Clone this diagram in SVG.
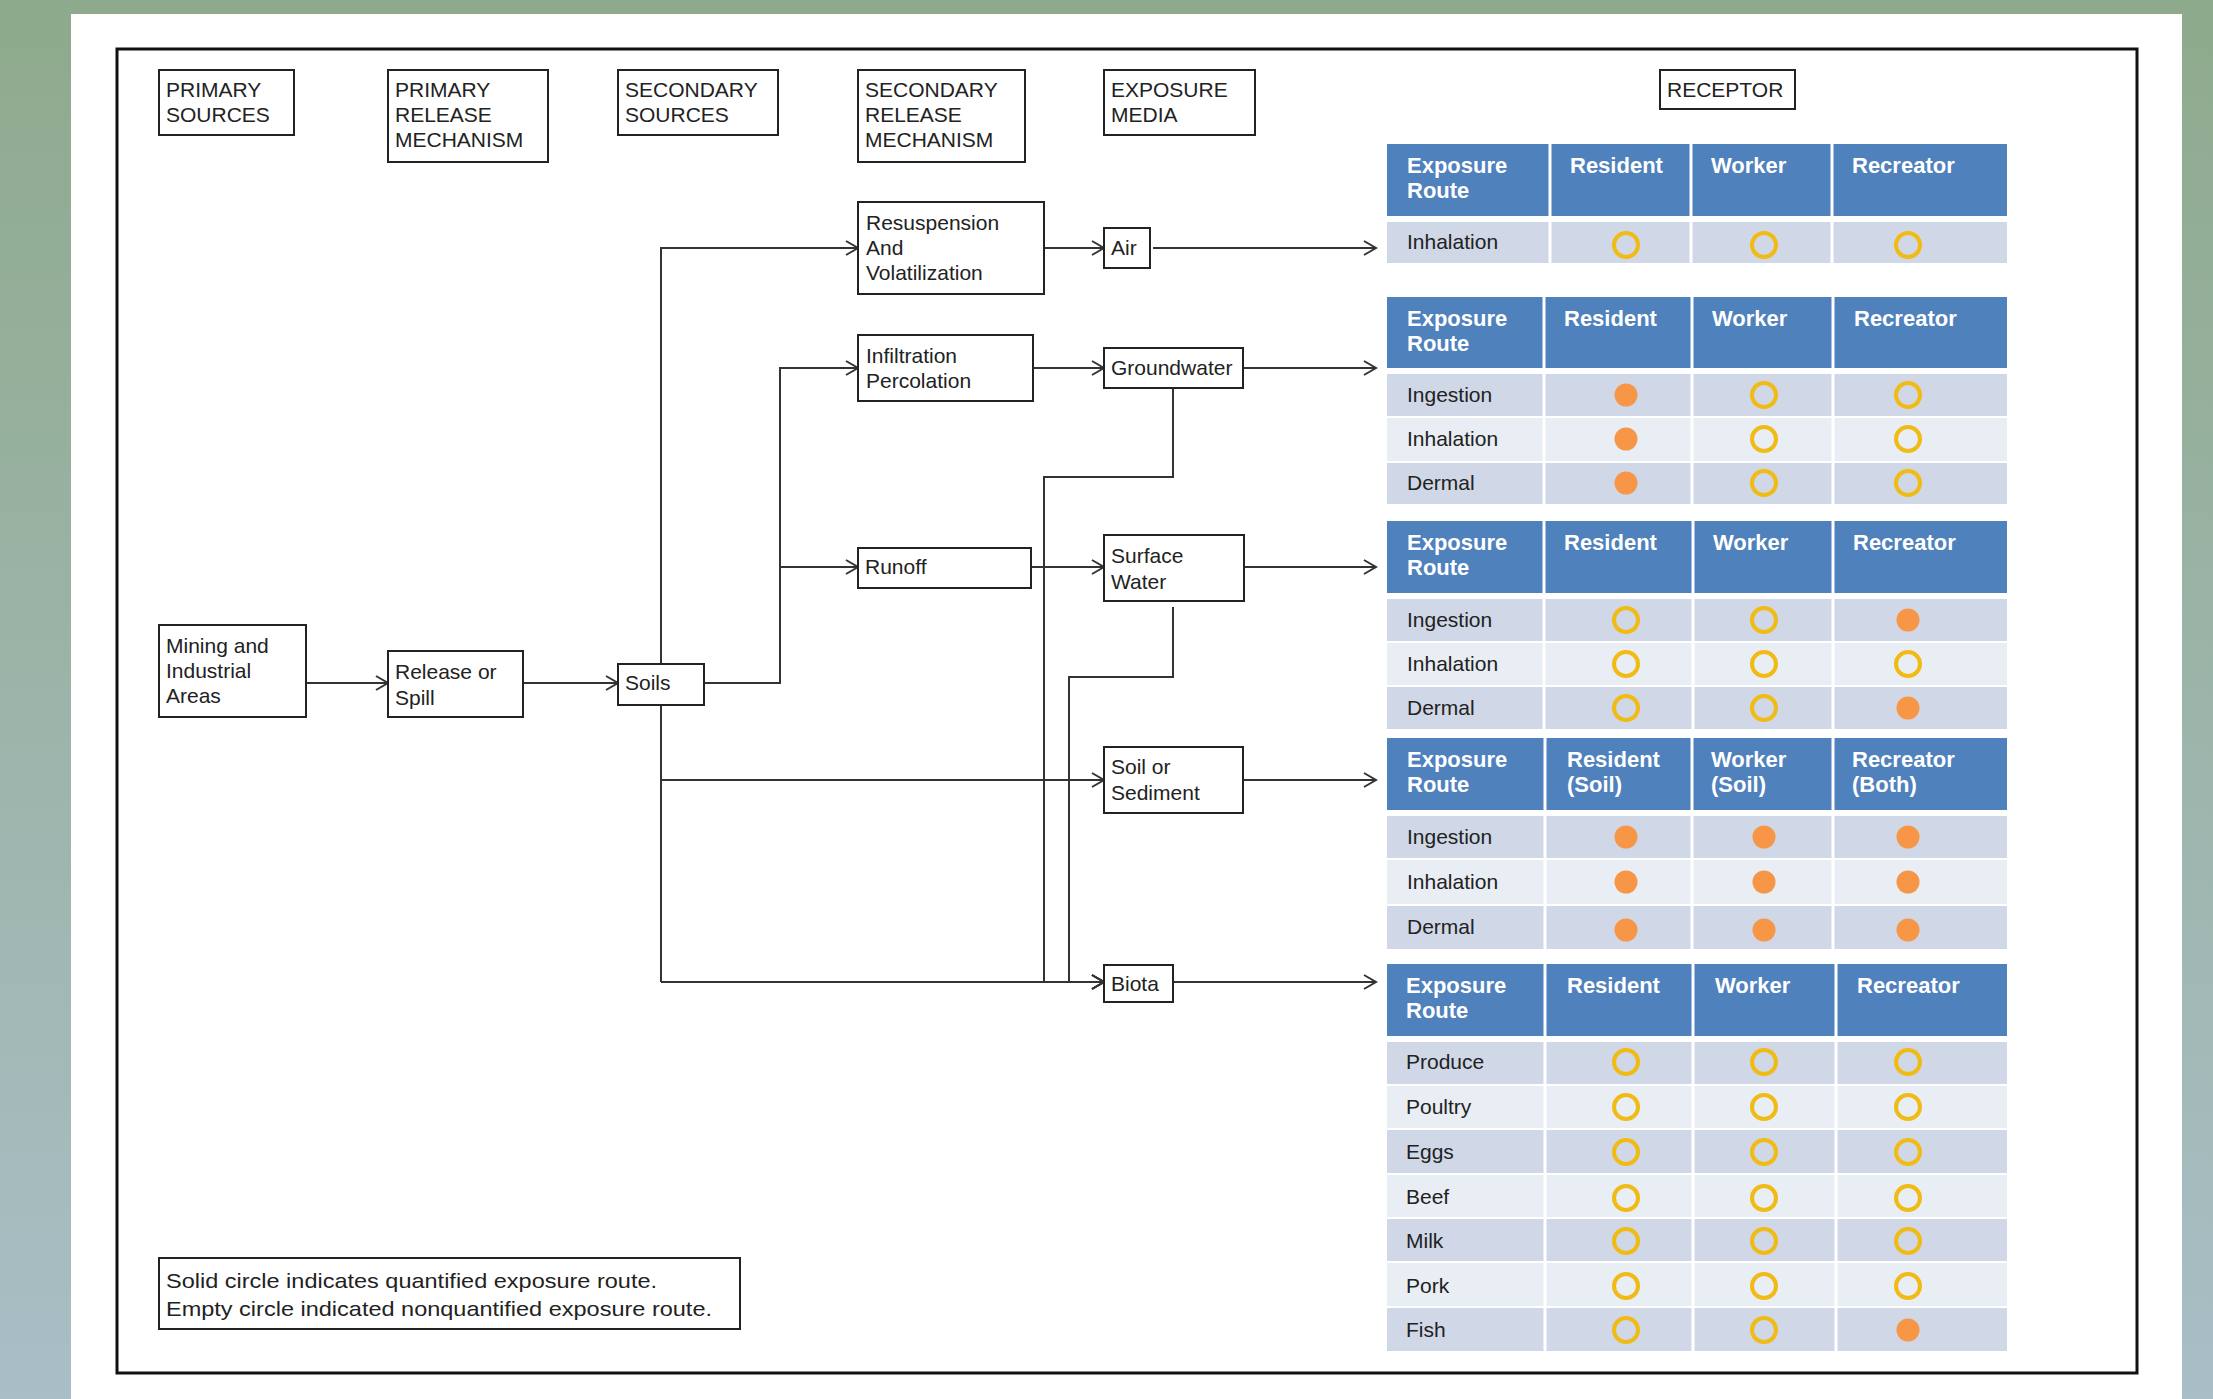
<svg xmlns="http://www.w3.org/2000/svg" width="2213" height="1399" viewBox="0 0 2213 1399">
<defs>
<linearGradient id="bg" x1="0" y1="0" x2="0" y2="1">
<stop offset="0" stop-color="#8eaa8c"/>
<stop offset="1" stop-color="#a9bec6"/>
</linearGradient>
<marker id="ah" markerUnits="userSpaceOnUse" markerWidth="16" markerHeight="16" refX="13" refY="8" orient="auto">
<path d="M1,1 L13,8 L1,15" fill="none" stroke="#333" stroke-width="2"/>
</marker>
<style>
.box{fill:#fff;stroke:#222;stroke-width:2}
.t{font-family:"Liberation Sans",Arial,sans-serif;font-size:21px;fill:#222}
.h{font-family:"Liberation Sans",Arial,sans-serif;font-size:22px;font-weight:bold;fill:#fff}
.c{fill:none;stroke:#333;stroke-width:2}
.a{fill:none;stroke:#333;stroke-width:2;marker-end:url(#ah)}
.hd{fill:#4f81bd}
.r1{fill:#d0d8e8}
.r2{fill:#e9edf4}
.sep{stroke:#fff;stroke-width:3}
.ring{fill:none;stroke:#f0bb14;stroke-width:4}
.dot{fill:#f79646}
</style>
</defs>
<rect x="0" y="0" width="2213" height="1399" fill="url(#bg)"/>
<rect x="71" y="14" width="2111" height="1385" fill="#fff"/>
<rect x="117" y="49" width="2020" height="1324" fill="none" stroke="#111" stroke-width="3"/>

<!-- column headers -->
<g id="hdr-primary-sources"><rect class="box" x="159" y="70" width="135" height="65"/><text class="t" x="166" y="97">PRIMARY</text><text class="t" x="166" y="122">SOURCES</text></g>
<g id="hdr-primary-release"><rect class="box" x="388" y="70" width="160" height="92"/><text class="t" x="395" y="97">PRIMARY</text><text class="t" x="395" y="122">RELEASE</text><text class="t" x="395" y="147">MECHANISM</text></g>
<g id="hdr-secondary-sources"><rect class="box" x="618" y="70" width="160" height="65"/><text class="t" x="625" y="97">SECONDARY</text><text class="t" x="625" y="122">SOURCES</text></g>
<g id="hdr-secondary-release"><rect class="box" x="858" y="70" width="167" height="92"/><text class="t" x="865" y="97">SECONDARY</text><text class="t" x="865" y="122">RELEASE</text><text class="t" x="865" y="147">MECHANISM</text></g>
<g id="hdr-exposure-media"><rect class="box" x="1104" y="70" width="151" height="65"/><text class="t" x="1111" y="97">EXPOSURE</text><text class="t" x="1111" y="122">MEDIA</text></g>
<g id="hdr-receptor"><rect class="box" x="1660" y="70" width="135" height="39"/><text class="t" x="1667" y="97">RECEPTOR</text></g>

<!-- connectors -->
<g id="connectors">
<path class="a" d="M307,683 H388"/>
<path class="a" d="M523,683 H618"/>
<path class="a" d="M704,683 H780 V368 H858"/>
<path class="a" d="M780,567 H858"/>
<path class="a" d="M661,982 V248 H858"/>
<path class="a" d="M661,780 H1104"/>
<path class="a" d="M661,982 H1104"/>
<path class="a" d="M1044,248 H1104"/>
<path class="a" d="M1153,248 H1376"/>
<path class="a" d="M1033,368 H1104"/>
<path class="a" d="M1243,368 H1376"/>
<path class="a" d="M1173,388 V477 H1044 V982 H1104"/>
<path class="a" d="M1031,567 H1104"/>
<path class="a" d="M1244,567 H1376"/>
<path class="a" d="M1173,607 V677 H1069 V982 H1104"/>
<path class="a" d="M1244,780 H1376"/>
<path class="a" d="M1173,982 H1376"/>
</g>

<!-- nodes -->
<g id="n-mining"><rect class="box" x="159" y="625" width="147" height="92"/><text class="t" x="166" y="653">Mining and</text><text class="t" x="166" y="678">Industrial</text><text class="t" x="166" y="703">Areas</text></g>
<g id="n-release"><rect class="box" x="388" y="651" width="135" height="66"/><text class="t" x="395" y="679">Release or</text><text class="t" x="395" y="705">Spill</text></g>
<g id="n-soils"><rect class="box" x="618" y="664" width="86" height="41"/><text class="t" x="625" y="690">Soils</text></g>
<g id="n-resuspension"><rect class="box" x="858" y="202" width="186" height="92"/><text class="t" x="866" y="230">Resuspension</text><text class="t" x="866" y="255">And</text><text class="t" x="866" y="280">Volatilization</text></g>
<g id="n-air"><rect class="box" x="1104" y="228" width="46" height="40"/><text class="t" x="1111" y="255">Air</text></g>
<g id="n-infiltration"><rect class="box" x="858" y="335" width="175" height="66"/><text class="t" x="866" y="363">Infiltration</text><text class="t" x="866" y="388">Percolation</text></g>
<g id="n-groundwater"><rect class="box" x="1104" y="348" width="139" height="40"/><text class="t" x="1111" y="375">Groundwater</text></g>
<g id="n-runoff"><rect class="box" x="858" y="548" width="173" height="40"/><text class="t" x="865" y="574">Runoff</text></g>
<g id="n-surface-water"><rect class="box" x="1104" y="535" width="140" height="66"/><text class="t" x="1111" y="563">Surface</text><text class="t" x="1111" y="589">Water</text></g>
<g id="n-soil-sediment"><rect class="box" x="1104" y="747" width="139" height="66"/><text class="t" x="1111" y="774">Soil or</text><text class="t" x="1111" y="800">Sediment</text></g>
<g id="n-biota"><rect class="box" x="1104" y="965" width="69" height="37"/><text class="t" x="1111" y="991">Biota</text></g>

<!-- legend -->
<g id="legend"><rect class="box" x="159" y="1258" width="581" height="71"/><text class="t" x="166" y="1288" textLength="491" lengthAdjust="spacingAndGlyphs">Solid circle indicates quantified exposure route.</text><text class="t" x="166" y="1316" textLength="546" lengthAdjust="spacingAndGlyphs">Empty circle indicated nonquantified exposure route.</text></g>

<!-- Table 1: Air -->
<g id="table-air">
<rect class="hd" x="1387" y="144" width="620" height="72"/>
<rect class="r1" x="1387" y="222" width="620" height="41"/>
<line class="sep" x1="1550" y1="144" x2="1550" y2="263"/><line class="sep" x1="1691" y1="144" x2="1691" y2="263"/><line class="sep" x1="1832" y1="144" x2="1832" y2="263"/>
<text class="h" x="1407" y="173">Exposure</text><text class="h" x="1407" y="198">Route</text>
<text class="h" x="1570" y="173">Resident</text><text class="h" x="1711" y="173">Worker</text><text class="h" x="1852" y="173">Recreator</text>
<text class="t" x="1407" y="249">Inhalation</text>
<circle class="ring" cx="1626" cy="245" r="12"/><circle class="ring" cx="1764" cy="245" r="12"/><circle class="ring" cx="1908" cy="245" r="12"/>
</g>

<!-- Table 2: Groundwater -->
<g id="table-groundwater">
<rect class="hd" x="1387" y="297" width="620" height="71"/>
<rect class="r1" x="1387" y="374" width="620" height="42"/>
<rect class="r2" x="1387" y="418" width="620" height="43"/>
<rect class="r1" x="1387" y="463" width="620" height="41"/>
<line class="sep" x1="1544" y1="297" x2="1544" y2="504"/><line class="sep" x1="1692" y1="297" x2="1692" y2="504"/><line class="sep" x1="1833" y1="297" x2="1833" y2="504"/>
<text class="h" x="1407" y="326">Exposure</text><text class="h" x="1407" y="351">Route</text>
<text class="h" x="1564" y="326">Resident</text><text class="h" x="1712" y="326">Worker</text><text class="h" x="1854" y="326">Recreator</text>
<text class="t" x="1407" y="402">Ingestion</text><text class="t" x="1407" y="446">Inhalation</text><text class="t" x="1407" y="490">Dermal</text>
<circle class="dot" cx="1626" cy="395" r="11.5"/><circle class="ring" cx="1764" cy="395" r="12"/><circle class="ring" cx="1908" cy="395" r="12"/>
<circle class="dot" cx="1626" cy="439" r="11.5"/><circle class="ring" cx="1764" cy="439" r="12"/><circle class="ring" cx="1908" cy="439" r="12"/>
<circle class="dot" cx="1626" cy="483" r="11.5"/><circle class="ring" cx="1764" cy="483" r="12"/><circle class="ring" cx="1908" cy="483" r="12"/>
</g>

<!-- Table 3: Surface Water -->
<g id="table-surface-water">
<rect class="hd" x="1387" y="521" width="620" height="72"/>
<rect class="r1" x="1387" y="599" width="620" height="42"/>
<rect class="r2" x="1387" y="643" width="620" height="42"/>
<rect class="r1" x="1387" y="687" width="620" height="42"/>
<line class="sep" x1="1544" y1="521" x2="1544" y2="729"/><line class="sep" x1="1693" y1="521" x2="1693" y2="729"/><line class="sep" x1="1833" y1="521" x2="1833" y2="729"/>
<text class="h" x="1407" y="550">Exposure</text><text class="h" x="1407" y="575">Route</text>
<text class="h" x="1564" y="550">Resident</text><text class="h" x="1713" y="550">Worker</text><text class="h" x="1853" y="550">Recreator</text>
<text class="t" x="1407" y="627">Ingestion</text><text class="t" x="1407" y="671">Inhalation</text><text class="t" x="1407" y="715">Dermal</text>
<circle class="ring" cx="1626" cy="620" r="12"/><circle class="ring" cx="1764" cy="620" r="12"/><circle class="dot" cx="1908" cy="620" r="11.5"/>
<circle class="ring" cx="1626" cy="664" r="12"/><circle class="ring" cx="1764" cy="664" r="12"/><circle class="ring" cx="1908" cy="664" r="12"/>
<circle class="ring" cx="1626" cy="708" r="12"/><circle class="ring" cx="1764" cy="708" r="12"/><circle class="dot" cx="1908" cy="708" r="11.5"/>
</g>

<!-- Table 4: Soil or Sediment -->
<g id="table-soil">
<rect class="hd" x="1387" y="738" width="620" height="72"/>
<rect class="r1" x="1387" y="816" width="620" height="42"/>
<rect class="r2" x="1387" y="860" width="620" height="44"/>
<rect class="r1" x="1387" y="906" width="620" height="43"/>
<line class="sep" x1="1545" y1="738" x2="1545" y2="949"/><line class="sep" x1="1692" y1="738" x2="1692" y2="949"/><line class="sep" x1="1833" y1="738" x2="1833" y2="949"/>
<text class="h" x="1407" y="767">Exposure</text><text class="h" x="1407" y="792">Route</text>
<text class="h" x="1567" y="767">Resident</text><text class="h" x="1567" y="792">(Soil)</text>
<text class="h" x="1711" y="767">Worker</text><text class="h" x="1711" y="792">(Soil)</text>
<text class="h" x="1852" y="767">Recreator</text><text class="h" x="1852" y="792">(Both)</text>
<text class="t" x="1407" y="844">Ingestion</text><text class="t" x="1407" y="889">Inhalation</text><text class="t" x="1407" y="934">Dermal</text>
<circle class="dot" cx="1626" cy="837" r="11.5"/><circle class="dot" cx="1764" cy="837" r="11.5"/><circle class="dot" cx="1908" cy="837" r="11.5"/>
<circle class="dot" cx="1626" cy="882" r="11.5"/><circle class="dot" cx="1764" cy="882" r="11.5"/><circle class="dot" cx="1908" cy="882" r="11.5"/>
<circle class="dot" cx="1626" cy="930" r="11.5"/><circle class="dot" cx="1764" cy="930" r="11.5"/><circle class="dot" cx="1908" cy="930" r="11.5"/>
</g>

<!-- Table 5: Biota -->
<g id="table-biota">
<rect class="hd" x="1387" y="964" width="620" height="72"/>
<rect class="r1" x="1387" y="1042" width="620" height="42"/>
<rect class="r2" x="1387" y="1086" width="620" height="42"/>
<rect class="r1" x="1387" y="1130" width="620" height="43"/>
<rect class="r2" x="1387" y="1175" width="620" height="42"/>
<rect class="r1" x="1387" y="1219" width="620" height="42"/>
<rect class="r2" x="1387" y="1263" width="620" height="43"/>
<rect class="r1" x="1387" y="1308" width="620" height="43"/>
<line class="sep" x1="1545" y1="964" x2="1545" y2="1351"/><line class="sep" x1="1693" y1="964" x2="1693" y2="1351"/><line class="sep" x1="1836" y1="964" x2="1836" y2="1351"/>
<text class="h" x="1406" y="993">Exposure</text><text class="h" x="1406" y="1018">Route</text>
<text class="h" x="1567" y="993">Resident</text><text class="h" x="1715" y="993">Worker</text><text class="h" x="1857" y="993">Recreator</text>
<text class="t" x="1406" y="1069">Produce</text><text class="t" x="1406" y="1114">Poultry</text><text class="t" x="1406" y="1159">Eggs</text><text class="t" x="1406" y="1204">Beef</text><text class="t" x="1406" y="1248">Milk</text><text class="t" x="1406" y="1293">Pork</text><text class="t" x="1406" y="1337">Fish</text>
<circle class="ring" cx="1626" cy="1062" r="12"/><circle class="ring" cx="1764" cy="1062" r="12"/><circle class="ring" cx="1908" cy="1062" r="12"/>
<circle class="ring" cx="1626" cy="1107" r="12"/><circle class="ring" cx="1764" cy="1107" r="12"/><circle class="ring" cx="1908" cy="1107" r="12"/>
<circle class="ring" cx="1626" cy="1152" r="12"/><circle class="ring" cx="1764" cy="1152" r="12"/><circle class="ring" cx="1908" cy="1152" r="12"/>
<circle class="ring" cx="1626" cy="1198" r="12"/><circle class="ring" cx="1764" cy="1198" r="12"/><circle class="ring" cx="1908" cy="1198" r="12"/>
<circle class="ring" cx="1626" cy="1241" r="12"/><circle class="ring" cx="1764" cy="1241" r="12"/><circle class="ring" cx="1908" cy="1241" r="12"/>
<circle class="ring" cx="1626" cy="1286" r="12"/><circle class="ring" cx="1764" cy="1286" r="12"/><circle class="ring" cx="1908" cy="1286" r="12"/>
<circle class="ring" cx="1626" cy="1330" r="12"/><circle class="ring" cx="1764" cy="1330" r="12"/><circle class="dot" cx="1908" cy="1330" r="11.5"/>
</g>
</svg>
